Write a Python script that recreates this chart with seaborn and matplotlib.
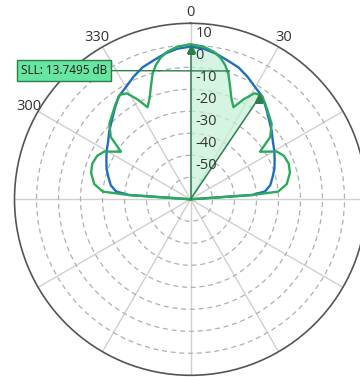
import numpy as np
import pandas as pd
import matplotlib
matplotlib.use("Agg")
import matplotlib.pyplot as plt
import seaborn as sns
from matplotlib import transforms

# half patterns (0..90 deg), the plot is symmetric about 0 deg
blue_deg = [0, 5, 10, 15, 20, 25, 30, 35, 40, 45, 50, 55, 60, 65, 70, 75, 80, 84, 85, 86, 90]
blue_db = [-0.6, -1.3, -2.8, -4.7, -6.2, -8.6, -11.2, -13.0, -16.4, -19.4, -21.8, -24.3,
           -26.0, -27.8, -29.4, -31.4, -33.2, -36.0, -39.5, -41.7, -70]

green_deg = [0, 5, 9, 12, 14.5, 16.7, 19, 22, 25, 28, 31, 34, 38, 41, 47, 52, 55.6,
             61, 65, 70, 75, 81, 85, 86, 90]
green_db = [0.5, -0.4, -2.1, -4.3, -7.0, -10.2, -15.0, -20.4, -23.8, -18.5, -13.8, -12.7,
            -14.8, -16.6, -19.6, -24.0, -31.7, -25.2, -23.2, -22.5, -23.2, -25.7, -30.0,
            -41.7, -70]

r_ticks = [-60, -50, -40, -30, -20, -10, 0]
r_labels = [-50, -40, -30, -20, -10, 0, 10]
theta_ticks = list(range(0, 360, 30))
theta_shown = ["0", "30", "300", "330"]

peak_marker = (0, -1.5)
sll_marker = (34, -14.2)
sll_text = "SLL: 13.7495 dB"
leader_point = (17, -9.0)

r_min, r_max = -70, 10


def full(deg, db, name):
    deg = np.array(deg, float)
    db = np.array(db, float)
    th = np.concatenate([-deg[::-1], deg[1:]])
    vals = np.concatenate([db[::-1], db[1:]])
    return pd.DataFrame({"theta": np.deg2rad(th), "db": vals, "series": name})


df = pd.concat([full(blue_deg, blue_db, "array"), full(green_deg, green_db, "taper")],
               ignore_index=True)

sns.set_style("white")
plt.rcParams["font.family"] = ["Open Sans", "DejaVu Sans"]

fig = plt.figure(figsize=(3.6, 3.77), dpi=100)
ax = fig.add_axes([14.5 / 360, 1.7 / 377, 352 / 360, 352 / 377], projection="polar")
ax.set_theta_zero_location("N")
ax.set_theta_direction(-1)
ax.set_ylim(r_min, r_max)

green = "#2bab5a"
dark_green = "#2e7d4f"
blue = "#1f6fc0"

# shaded wedge between main lobe and side lobe marker
gd = np.array(green_deg)
gv = np.array(green_db)
m = gd <= sll_marker[0]
wedge_t = np.deg2rad(np.concatenate([[0], gd[m], [sll_marker[0], sll_marker[0]]]))
wedge_r = np.concatenate([[r_min], gv[m], [sll_marker[1], r_min]])
ax.fill(wedge_t, wedge_r, color="#c4f0d6", alpha=0.7, lw=0, zorder=1)

sns.lineplot(data=df, x="theta", y="db", hue="series", palette={"array": blue, "taper": green},
             sort=False, estimator=None, legend=False, lw=1.7, ax=ax, zorder=3)

# marker lines
for t, v in [peak_marker, sll_marker]:
    ax.plot([np.deg2rad(t)] * 2, [r_min, v], color=dark_green, lw=1.1, zorder=4)
    ax.plot(np.deg2rad(t), v, marker="^", color=dark_green, ms=6, zorder=5)

ax.annotate(sll_text, xy=(np.deg2rad(leader_point[0]), leader_point[1]),
            xytext=(64, 377 - 70.5), textcoords="figure pixels", ha="center", va="center",
            fontsize=8.5, color="#1a1a1a",
            bbox=dict(boxstyle="square,pad=0.35", fc="#66e6a0", ec=dark_green, lw=1),
            arrowprops=dict(arrowstyle="-", color=dark_green, lw=1, shrinkA=0, shrinkB=0),
            zorder=6, annotation_clip=False)

# grids
ax.set_yticks(r_ticks)
ax.set_yticklabels([])
ax.yaxis.grid(True, color="#b0b0b0", ls=(0, (4, 3)), lw=0.9)
ax.set_xticks(np.deg2rad(theta_ticks))
ax.set_xticklabels([str(t) if str(t) in theta_shown else "" for t in theta_ticks],
                   fontsize=10.5, color="#333333")
ax.xaxis.grid(True, color="#d0d0d0", ls="-", lw=1)
ax.tick_params(axis="x", pad=-3)
ax.spines["polar"].set_color("#555555")
ax.spines["polar"].set_linewidth(1.2)
ax.set_xlabel("")
ax.set_ylabel("")

off = transforms.offset_copy(ax.transData, fig=fig, x=5, y=-3, units="dots")
for v in r_labels:
    ax.text(0, v, str(v), transform=off, ha="left", va="top", fontsize=10.5,
            color="#333333", zorder=7)

fig.savefig("out.png", dpi=100)
